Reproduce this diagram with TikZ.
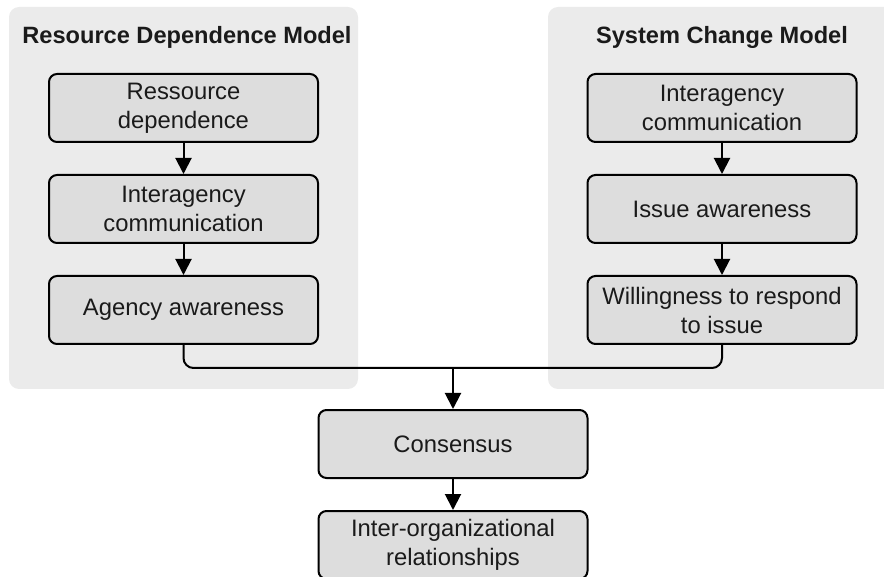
\documentclass[tikz,border=0pt]{standalone}
\usepackage{fontspec}
\setmainfont{Liberation Sans}
\usepackage{xcolor}
\usetikzlibrary{positioning,arrows.meta}
\definecolor{panelgray}{HTML}{EBEBEB}
\definecolor{boxgray}{HTML}{DDDDDD}
\definecolor{textgray}{HTML}{1A1A1A}

\begin{document}
\begin{tikzpicture}[x=0.5pt, y=-0.5pt, node distance=50.5pt,
    box/.style={rectangle, draw, fill=boxgray, line width=1pt, rounded corners=4pt, align=center,
        minimum width=134.5pt, minimum height=34pt, inner sep=1pt, text=textgray,
        font=\fontsize{11.9}{14.5}\selectfont},
    title/.style={font=\fontsize{11.8}{14.4}\selectfont\bfseries, text=textgray},
    link/.style={line width=1pt, -{Triangle[width=8pt,length=8pt]}}]
    \clip (0,0) rectangle (884,577);
    \fill [panelgray, rounded corners=5pt] (9,7) rectangle (358,389);
    \fill [panelgray, rounded corners=5pt] (548,7) rectangle (896,389);

    \node [title] (rdmtitle) at (187,37) {Resource Dependence Model};
    \node [title] (scmtitle) at (722,37) {System Change Model};

    \node [box] (resdep) at (183.5,108) {Ressource\\dependence};
    \node [box, below of=resdep] (comleft) {Interagency\\communication};
    \node [box, below of=comleft] (agency) {Agency awareness};

    \node [box] (comright) at (722,108) {Interagency\\communication};
    \node [box, below of=comright] (issue) {Issue awareness};
    \node [box, below of=issue] (willing) {Willingness to respond\\to issue};

    \node [box] (consensus) at (453,444) {Consensus};
    \node [box, below of=consensus] (interorg) {Inter-organizational\\relationships};

    \coordinate (join) at (453,368);

    \draw [link] (resdep) -- (comleft);
    \draw [link] (comleft) -- (agency);
    \draw [link] (comright) -- (issue);
    \draw [link] (issue) -- (willing);
    \draw [line width=1pt, rounded corners=5pt] (agency.south) |- (join) -| (willing.south);
    \draw [link] (join) -- (consensus);
    \draw [link] (consensus) -- (interorg);
\end{tikzpicture}
\end{document}
